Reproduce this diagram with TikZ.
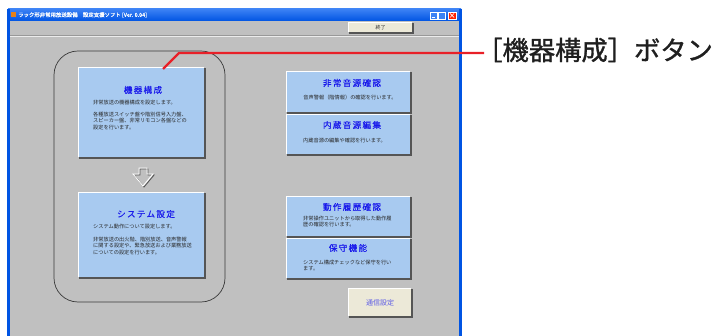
\documentclass[tikz,border=0pt]{standalone}
\usepackage{fontspec}
\newfontfamily\cjk{Noto Sans CJK JP}
\newfontfamily\cjkb[FakeBold=1.2]{Noto Sans CJK JP}
\newfontfamily\cjkt[FakeBold=0.3,LetterSpace=15]{Noto Sans CJK JP}
\newfontfamily\cjkw[FakeBold=0.6]{Noto Sans CJK JP}
\usetikzlibrary{calc}
\definecolor{winbg}{RGB}{192,192,192}
\definecolor{btnblue}{RGB}{168,202,240}
\definecolor{titleblue}{RGB}{25,25,235}
\definecolor{beige}{RGB}{236,233,216}
\definecolor{calloutred}{RGB}{232,32,40}
\definecolor{xpblue}{RGB}{0,84,227}
\definecolor{xplight}{RGB}{60,130,245}
\definecolor{shadowgray}{RGB}{85,85,85}
\definecolor{bodytext}{RGB}{40,40,40}
\definecolor{commblue}{RGB}{90,90,230}
\tikzset{
  btn/.style={fill=btnblue, draw=none, inner sep=0pt},
  beigebtn/.style={fill=beige, draw=none, inner sep=0pt},
  btitle/.style={font=\cjkt\fontsize{8.6}{10}\selectfont, text=titleblue, inner sep=0pt},
  bbody/.style={font=\cjk\fontsize{5.2}{6.3}\selectfont, text=bodytext, inner sep=0pt, align=left},
  callout/.style={draw=calloutred, line width=2.2pt},
}
\newcommand\bevelbox[1]{%
  \draw[white, line width=1pt] (#1.south west) -- (#1.north west) -- (#1.north east);
  \draw[shadowgray, line width=1.4pt] ($(#1.north east)+(0.7,0)$) -- ($(#1.south east)+(0.7,0.7)$) -- ($(#1.south west)+(0,0.7)$);
}
\begin{document}
\begin{tikzpicture}[x=1pt,y=-1pt]
\useasboundingbox (0,0) rectangle (722,336);
\fill[white] (0,0) rectangle (722,336);
% window
\fill[winbg] (8,9) rectangle (461,336);
\shade[top color=xplight, bottom color=xpblue] (8,9) rectangle (461,21);
\fill[xpblue] (7,9) rectangle (9.5,336);
\fill[xpblue] (459,9) rectangle (462,336);
\draw[white!85!gray, line width=0.8pt] (9.5,36.5) -- (459,36.5);
\draw[gray!80, line width=0.6pt] (9.5,35.7) -- (459,35.7);
% title bar
\node[fill=orange!60!brown, minimum size=5pt, inner sep=0pt] (icon) at (13,15) {};
\node[anchor=west, inner sep=0pt, text=white, font=\cjkw\fontsize{5.4}{6}\selectfont] (wtitle) at (18,15) {ラック形非常用放送設備　設定支援ソフト [Ver. 0.04]};
\node[fill=xplight, draw=white, line width=0.4pt, minimum width=7pt, minimum height=7pt, inner sep=0pt] (minb) at (433.5,15.5) {};
\draw[white, line width=0.8pt] (431.5,17.5) -- (434.5,17.5);
\node[fill=xplight, draw=white, line width=0.4pt, minimum width=7pt, minimum height=7pt, inner sep=0pt] (maxb) at (441.5,15.5) {};
\node[fill=red!75!orange, draw=white, line width=0.4pt, minimum width=8pt, minimum height=7pt, inner sep=0pt] (closeb) at (452,15.5) {};
\draw[white, line width=0.7pt] (450,13.5) -- (454,17.5) (450,17.5) -- (454,13.5);
% exit button
\node[beigebtn, minimum width=63pt, minimum height=9pt] (exitb) at (380.5,27.5) {};
\bevelbox{exitb}
\node[font=\cjk\fontsize{5}{5}\selectfont, text=bodytext, inner sep=0pt] (exitt) at (exitb) {終了};
% group frame
\draw[gray!45!black, line width=0.7pt, rounded corners=24pt] (54,51) rectangle (225,302);
% big buttons
\node[btn, minimum width=125pt, minimum height=89pt] (kiki) at (141.5,112.5) {};
\bevelbox{kiki}
\node[btitle] (kikit) at (143,90) {機器構成};
\node[bbody, anchor=west] (kikib1) at (93,103) {非常放送の機器構成を設定します。};
\node[bbody, anchor=north west] (kikib2) at (93,112) {各種放送スイッチ盤や階別信号入力盤、\\スピーカー盤、非常リモコン各盤などの\\設定を行います。};
\node[btn, minimum width=125pt, minimum height=84pt] (sys) at (141.5,235) {};
\bevelbox{sys}
\node[btitle] (syst) at (146,214) {システム設定};
\node[bbody, anchor=west] (sysb1) at (93,227) {システム動作について設定します。};
\node[bbody, anchor=north west] (sysb2) at (93,237) {非常放送の出火階、階別放送、音声警報\\に関する設定や、緊急放送および業務放送\\についての設定を行います。};
% down arrow
\draw[shadowgray, line width=0.9pt, line join=miter] (140,169) -- (148,169) -- (148,175) -- (154,175) -- (144,187) -- (134,175) -- (140,175) -- cycle;
\draw[white, line width=0.9pt, line join=miter] (139,168) -- (147,168) -- (147,174) -- (153,174) -- (143,186) -- (133,174) -- (139,174) -- cycle;
% right buttons
\node[btn, minimum width=123pt, minimum height=40pt] (hij) at (348.5,92) {};
\bevelbox{hij}
\node[btitle] (hijt) at (352,83) {非常音源確認};
\node[bbody] (hijb) at (350,98) {音声警報（階情報）の確認を行います。};
\node[btn, minimum width=123pt, minimum height=39pt] (nai) at (348.5,134.5) {};
\bevelbox{nai}
\node[btitle] (nait) at (352,125) {内蔵音源編集};
\node[bbody, anchor=west] (naib) at (303,141) {内蔵音源の編集や確認を行います。};
\node[btn, minimum width=123pt, minimum height=39pt] (dou) at (348.5,216.5) {};
\bevelbox{dou}
\node[btitle] (dout) at (352,207) {動作履歴確認};
\node[bbody, anchor=north west] (doub) at (303,215.5) {非常操作ユニットから取得した動作履\\歴の確認を行います。};
\node[btn, minimum width=123pt, minimum height=39pt] (hos) at (348.5,258.5) {};
\bevelbox{hos}
\node[btitle] (host) at (348,248) {保守機能};
\node[bbody, anchor=north west] (hosb) at (303,259.5) {システム構成チェックなど保守を行い\\ます。};
% comm button
\node[beigebtn, minimum width=62pt, minimum height=27pt] (comm) at (380,302.5) {};
\bevelbox{comm}
\node[font=\cjk\fontsize{7}{7}\selectfont, text=commblue, inner sep=0pt] (commt) at (comm) {通信設定};
% callout
\node[anchor=west, inner sep=0pt, font=\cjkb\fontsize{26.3}{27}\selectfont, text=black!88] (label) at (476,50) {［機器構成］ボタン};
\coordinate (bend) at (179,53);
\coordinate (tip) at (163,69);
\draw[callout] (tip) -- (bend) -- (label.west |- bend) -- ++(8,0);
\end{tikzpicture}
\end{document}
